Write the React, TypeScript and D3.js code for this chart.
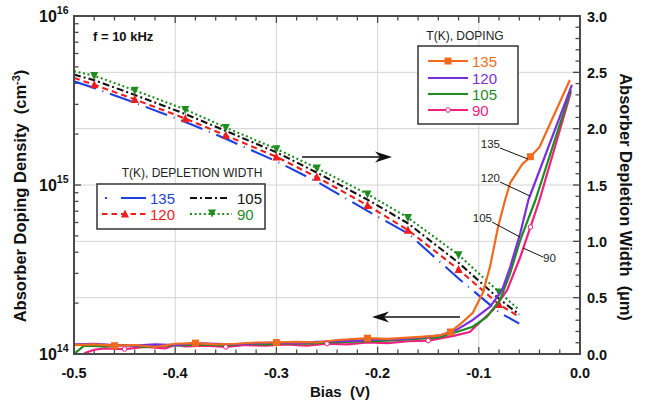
import React from "react";
import * as d3 from "d3";

// ---- Depletion width (right axis, µm) ----
const depBias = [-0.5, -0.48, -0.44, -0.39, -0.35, -0.3, -0.26, -0.21, -0.17, -0.12, -0.08, -0.06];
const width135 = [2.42, 2.36, 2.23, 2.06, 1.91, 1.71, 1.53, 1.27, 1.07, 0.67, 0.37, 0.27];
const width120 = [2.45, 2.39, 2.26, 2.09, 1.94, 1.75, 1.57, 1.32, 1.1, 0.75, 0.44, 0.33];
const width105 = [2.48, 2.43, 2.3, 2.13, 1.98, 1.79, 1.61, 1.37, 1.16, 0.81, 0.49, 0.35];
const width90 = [2.51, 2.47, 2.34, 2.17, 2.01, 1.82, 1.65, 1.42, 1.21, 0.88, 0.55, 0.39];
const depMarkerBias = [-0.48, -0.44, -0.39, -0.35, -0.3, -0.26, -0.21, -0.17, -0.12, -0.08];

// ---- Absorber doping density (left axis, cm^-3) ----
const bias135 = [-0.5, -0.48, -0.46, -0.44, -0.42, -0.4, -0.38, -0.36, -0.34, -0.32, -0.3, -0.28, -0.26, -0.24, -0.21, -0.19, -0.17, -0.15, -0.138, -0.128, -0.119, -0.106, -0.096, -0.089, -0.081, -0.074, -0.069, -0.057, -0.049, -0.04, -0.01];
const doping135 = [1.13e14, 1.14e14, 1.12e14, 1.13e14, 1.1e14, 1.15e14, 1.16e14, 1.14e14, 1.15e14, 1.17e14, 1.17e14, 1.18e14, 1.17e14, 1.21e14, 1.24e14, 1.23e14, 1.25e14, 1.27e14, 1.29e14, 1.35e14, 1.49e14, 1.75e14, 2.3e14, 3.27e14, 5.64e14, 8.15e14, 1.03e15, 1.33e15, 1.47e15, 1.68e15, 4.18e15];
const marker135 = [-0.46, -0.38, -0.3, -0.21, -0.128, -0.049];

const bias120 = [-0.5, -0.48, -0.46, -0.44, -0.42, -0.4, -0.38, -0.36, -0.34, -0.32, -0.3, -0.28, -0.26, -0.24, -0.22, -0.2, -0.18, -0.16, -0.138, -0.122, -0.106, -0.089, -0.077, -0.069, -0.059, -0.051, -0.008];
const doping120 = [1.14e14, 1.15e14, 1.13e14, 1.12e14, 1.14e14, 1.13e14, 1.16e14, 1.15e14, 1.14e14, 1.16e14, 1.17e14, 1.16e14, 1.18e14, 1.19e14, 1.2e14, 1.22e14, 1.22e14, 1.25e14, 1.29e14, 1.39e14, 1.59e14, 1.9e14, 2.39e14, 3.27e14, 5.2e14, 8.15e14, 3.91e15];

const bias105 = [-0.5, -0.49, -0.47, -0.45, -0.43, -0.41, -0.39, -0.37, -0.35, -0.33, -0.31, -0.29, -0.27, -0.25, -0.23, -0.21, -0.19, -0.17, -0.15, -0.138, -0.122, -0.106, -0.092, -0.079, -0.069, -0.059, -0.044, -0.009];
const doping105 = [1.0e14, 1.12e14, 1.11e14, 1.13e14, 1.1e14, 1.12e14, 1.13e14, 1.14e14, 1.12e14, 1.15e14, 1.14e14, 1.16e14, 1.15e14, 1.17e14, 1.18e14, 1.19e14, 1.2e14, 1.22e14, 1.24e14, 1.26e14, 1.35e14, 1.45e14, 1.66e14, 2.09e14, 3.01e14, 4.73e14, 8.15e14, 3.65e15];

const bias90 = [-0.49, -0.48, -0.47, -0.45, -0.43, -0.41, -0.4, -0.39, -0.37, -0.35, -0.33, -0.31, -0.29, -0.27, -0.25, -0.23, -0.21, -0.19, -0.17, -0.15, -0.125, -0.109, -0.086, -0.072, -0.059, -0.049, -0.04, -0.009];
const doping90 = [1.01e14, 1.06e14, 1.08e14, 1.07e14, 1.1e14, 1.08e14, 1.13e14, 1.11e14, 1.12e14, 1.1e14, 1.13e14, 1.12e14, 1.14e14, 1.12e14, 1.15e14, 1.14e14, 1.17e14, 1.16e14, 1.19e14, 1.2e14, 1.28e14, 1.35e14, 1.82e14, 2.39e14, 3.75e14, 5.64e14, 8.15e14, 3.55e15];
const marker90 = [-0.45, -0.35, -0.25, -0.15, -0.049];

// ---- Axis ticks ----
const xTicks = [-0.5, -0.4, -0.3, -0.2, -0.1, 0.0];
const xTickLabels = ["-0.5", "-0.4", "-0.3", "-0.2", "-0.1", "0.0"];
const leftDecades = [1e14, 1e15, 1e16];
const leftExponents = ["14", "15", "16"];
const rightTicks = [0, 0.5, 1.0, 1.5, 2.0, 2.5, 3.0];
const rightTickLabels = ["0.0", "0.5", "1.0", "1.5", "2.0", "2.5", "3.0"];

const C135 = "#F26B1D";
const C120 = "#7B2EE0";
const C105 = "#1E8C1E";
const C90 = "#F0207F";
const BLUE = "#1F3FE0";
const RED = "#EE1C1C";
const GREEN = "#1E8C1E";
const AXIS = "#4a4a4a";
const GRID = "#d4d4d4";
const FONT = "'Liberation Sans', Arial, Helvetica, sans-serif";

const W = 647;
const H = 405;
const L = 74, R = 580, T = 16, B = 354;

const x = d3.scaleLinear().domain([-0.5, 0]).range([L, R]);
const yL = d3.scaleLog().domain([1e14, 1e16]).range([B, T]);
const yR = d3.scaleLinear().domain([0, 3]).range([B, T]);

type Pt = [number, number];
const zip = (a: number[], b: number[]): Pt[] => a.map((v, i) => [v, b[i]]);

const lineL = d3.line<Pt>().x((d) => x(d[0])).y((d) => yL(d[1]));
const lineR = d3.line<Pt>().x((d) => x(d[0])).y((d) => yR(d[1]));

const pick = (bs: number[], vs: number[], wanted: number[]): Pt[] =>
  wanted.map((w) => {
    const i = bs.findIndex((b) => Math.abs(b - w) < 1e-6);
    return [bs[i], vs[i]] as Pt;
  });

function TriUp({ cx, cy, s, fill }: { cx: number; cy: number; s: number; fill: string }) {
  const h = s * 0.9;
  return <path d={`M${cx},${cy - h / 2 - 1}L${cx + s / 2},${cy + h / 2}L${cx - s / 2},${cy + h / 2}Z`} fill={fill} />;
}
function TriDown({ cx, cy, s, fill }: { cx: number; cy: number; s: number; fill: string }) {
  const h = s * 0.9;
  return <path d={`M${cx},${cy + h / 2 + 1}L${cx + s / 2},${cy - h / 2}L${cx - s / 2},${cy - h / 2}Z`} fill={fill} />;
}

function Arrow({ x1, x2, y }: { x1: number; x2: number; y: number }) {
  const dir = Math.sign(x2 - x1);
  const len = 17;
  const hw = 5.5;
  const back = x2 - dir * len;
  return (
    <g>
      <line x1={x1} y1={y} x2={x2 - dir * 6} y2={y} stroke="#111" strokeWidth={1.6} />
      <path
        d={`M${x2},${y}L${back},${y - hw}L${back + dir * 5},${y}L${back},${y + hw}Z`}
        fill="#111"
      />
    </g>
  );
}

export default function App() {
  const minorX = d3.range(-0.5, 0.0001, 0.02);
  const minorR = d3.range(0, 3.0001, 0.1);
  const minorL: number[] = [];
  [1e14, 1e15].forEach((dec) => {
    for (let k = 2; k <= 9; k++) minorL.push(dec * k);
  });

  const dep = [
    { v: width135, color: BLUE, dash: "23 7 1 7" },
    { v: width120, color: RED, dash: "6 4" },
    { v: width105, color: "#111", dash: "7 3 2 3" },
    { v: width90, color: GREEN, dash: "2 2.6" },
  ];

  return (
    <svg
      width={W}
      height={H}
      viewBox={`0 0 ${W} ${H}`}
      style={{ position: "absolute", left: 0, top: 0, background: "#fff" }}
      fontFamily={FONT}
    >
      <defs>
        <clipPath id="plot">
          <rect x={L} y={T} width={R - L} height={B - T} />
        </clipPath>
      </defs>
      <rect width={W} height={H} fill="#fff" />

      {/* grid */}
      {xTicks.slice(1, -1).map((t) => (
        <line key={"gx" + t} x1={x(t)} x2={x(t)} y1={T} y2={B} stroke={GRID} strokeWidth={1} />
      ))}
      {rightTicks.slice(1, -1).map((t) => (
        <line key={"gy" + t} x1={L} x2={R} y1={yR(t)} y2={yR(t)} stroke={GRID} strokeWidth={1} />
      ))}

      {/* ticks */}
      <g stroke={AXIS} strokeWidth={1.3}>
        {minorX.map((t, i) => {
          const major = i % 5 === 0;
          const len = major ? 7 : 4.5;
          return (
            <g key={"tx" + i}>
              <line x1={x(t)} x2={x(t)} y1={B} y2={B - len} />
              <line x1={x(t)} x2={x(t)} y1={T} y2={T + len} />
            </g>
          );
        })}
        {minorR.map((t, i) => {
          const major = i % 5 === 0;
          const len = major ? 7 : 4.5;
          return <line key={"tr" + i} x1={R} x2={R - len} y1={yR(t)} y2={yR(t)} />;
        })}
        {minorL.map((t, i) => (
          <line key={"tl" + i} x1={L} x2={L + 4.5} y1={yL(t)} y2={yL(t)} />
        ))}
        {leftDecades.map((t, i) => (
          <line key={"tld" + i} x1={L} x2={L + 7} y1={yL(t)} y2={yL(t)} />
        ))}
      </g>

      {/* depletion width curves */}
      <g clipPath="url(#plot)">
        {dep.map((s, k) => (
          <path
            key={"dep" + k}
            d={lineR(zip(depBias, s.v)) || ""}
            fill="none"
            stroke={s.color}
            strokeWidth={2.1}
            strokeDasharray={s.dash}
          />
        ))}
        {pick(depBias, width120, depMarkerBias).map((p, i) => (
          <TriUp key={"m120" + i} cx={x(p[0])} cy={yR(p[1])} s={8} fill={RED} />
        ))}
        {pick(depBias, width90, depMarkerBias).map((p, i) => (
          <TriDown key={"m90" + i} cx={x(p[0])} cy={yR(p[1])} s={8} fill={GREEN} />
        ))}
      </g>

      {/* doping curves */}
      <g clipPath="url(#plot)" fill="none" strokeWidth={2.2} strokeLinejoin="round">
        <path d={lineL(zip(bias90, doping90)) || ""} stroke={C90} />
        <path d={lineL(zip(bias105, doping105)) || ""} stroke={C105} />
        <path d={lineL(zip(bias120, doping120)) || ""} stroke={C120} />
        <path d={lineL(zip(bias135, doping135)) || ""} stroke={C135} />
        {pick(bias135, doping135, marker135).map((p, i) => (
          <rect key={"s" + i} x={x(p[0]) - 3.5} y={yL(p[1]) - 3.5} width={7} height={7} fill={C135} stroke="none" />
        ))}
        {pick(bias90, doping90, marker90).map((p, i) => (
          <circle key={"c" + i} cx={x(p[0])} cy={yL(p[1])} r={2.3} fill="#fff" stroke={C90} strokeWidth={1} />
        ))}
      </g>

      {/* axes frame */}
      <rect x={L} y={T} width={R - L} height={B - T} fill="none" stroke={AXIS} strokeWidth={2} />

      {/* arrows */}
      <Arrow x1={302} x2={392} y={157} />
      <Arrow x1={460} x2={372} y={317} />

      {/* curve labels with leaders */}
      <g fontSize={11.5} fill="#222">
        <text x={500} y={148} textAnchor="end">135</text>
        <line x1={500} y1={148} x2={528} y2={159} stroke="#111" strokeWidth={1} />
        <text x={500} y={182} textAnchor="end">120</text>
        <line x1={500} y1={182} x2={530} y2={196} stroke="#111" strokeWidth={1} />
        <text x={492} y={222} textAnchor="end">105</text>
        <line x1={492} y1={222} x2={520} y2={237} stroke="#111" strokeWidth={1} />
        <text x={543} y={262}>90</text>
        <line x1={523} y1={248} x2={543} y2={257} stroke="#111" strokeWidth={1} />
      </g>

      {/* f label */}
      <text x={93} y={41} fontSize={13} fontWeight="bold" fill="#111">f = 10 kHz</text>

      {/* doping legend */}
      <text x={465} y={40} fontSize={12} textAnchor="middle" fill="#222">T(K), DOPING</text>
      <rect x={418} y={46} width={100} height={78} fill="#fff" stroke="#333" strokeWidth={1.5} />
      {[
        { c: C135, label: "135", y: 61 },
        { c: C120, label: "120", y: 78 },
        { c: C105, label: "105", y: 94 },
        { c: C90, label: "90", y: 110 },
      ].map((e, i) => (
        <g key={"dl" + i}>
          <line x1={428} x2={468} y1={e.y} y2={e.y} stroke={e.c} strokeWidth={2} />
          <text x={472} y={e.y + 5.5} fontSize={15} fill={e.c}>{e.label}</text>
        </g>
      ))}
      <rect x={444.5} y={61 - 3.5} width={7} height={7} fill={C135} />
      <circle cx={448} cy={110} r={2.3} fill="#fff" stroke={C90} strokeWidth={1} />

      {/* depletion legend */}
      <text x={192} y={177} fontSize={12} textAnchor="middle" fill="#222">T(K), DEPLETION WIDTH</text>
      <rect x={97} y={184} width={168} height={45} fill="#fff" stroke="#333" strokeWidth={1.5} />
      <line x1={105} x2={107} y1={198} y2={198} stroke={BLUE} strokeWidth={2} />
      <line x1={121} x2={146} y1={198} y2={198} stroke={BLUE} strokeWidth={2} />
      <text x={150} y={203.5} fontSize={15} fill={BLUE}>135</text>
      <line x1={102} x2={148} y1={214} y2={214} stroke={RED} strokeWidth={2} strokeDasharray="5.5 4" />
      <TriUp cx={125} cy={214} s={8} fill={RED} />
      <text x={150} y={219.5} fontSize={15} fill={RED}>120</text>
      <line x1={190} x2={228} y1={198} y2={198} stroke="#111" strokeWidth={2} strokeDasharray="7 3 2 3" />
      <text x={237} y={203.5} fontSize={15} fill="#111">105</text>
      <line x1={190} x2={232} y1={214} y2={214} stroke={GREEN} strokeWidth={2} strokeDasharray="2 2.6" />
      <TriDown cx={212} cy={213} s={8} fill={GREEN} />
      <text x={237} y={219.5} fontSize={15} fill={GREEN}>90</text>

      {/* x tick labels */}
      {xTicks.map((t, i) => (
        <text key={"xl" + i} x={x(t)} y={378} textAnchor="middle" fontSize={14.5} fontWeight="bold" fill="#111">
          {xTickLabels[i]}
        </text>
      ))}
      <text x={340} y={397} textAnchor="middle" fontSize={15} fontWeight="bold" fill="#111" xmlSpace="preserve">
        Bias  (V)
      </text>

      {/* left tick labels */}
      {leftDecades.map((t, i) => (
        <text key={"ll" + i} x={39} y={yL(t) + 6} fontSize={16} fontWeight="bold" fill="#111">
          10
          <tspan fontSize={10.5} dy={-8}>{leftExponents[i]}</tspan>
        </text>
      ))}
      <text
        transform={`translate(26,196) rotate(-90)`}
        textAnchor="middle"
        fontSize={16.5}
        fontWeight="bold"
        fill="#111"
        xmlSpace="preserve"
      >
        Absorber Doping Density  (cm
        <tspan fontSize={11} dy={-6}>-3</tspan>
        <tspan dy={6}>)</tspan>
      </text>

      {/* right tick labels */}
      {rightTicks.map((t, i) => (
        <text key={"rl" + i} x={587} y={yR(t) + 5.5} fontSize={14.5} fontWeight="bold" fill="#111">
          {rightTickLabels[i]}
        </text>
      ))}
      <text
        transform={`translate(620,197) rotate(90)`}
        textAnchor="middle"
        fontSize={16.5}
        fontWeight="bold"
        fill="#111"
        xmlSpace="preserve"
      >
        Absorber Depletion Width  (µm)
      </text>
    </svg>
  );
}
